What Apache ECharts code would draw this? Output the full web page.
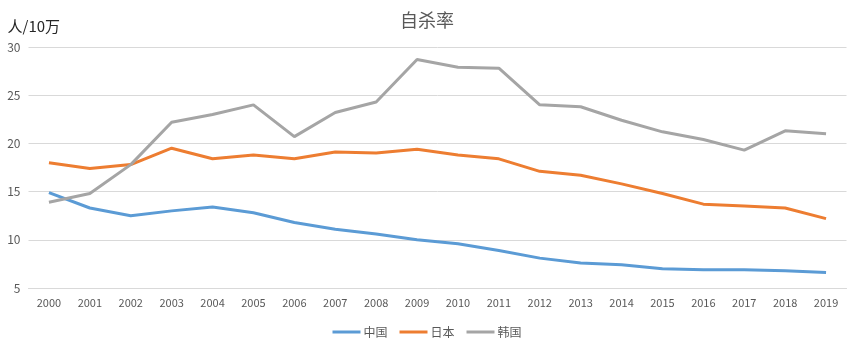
<!DOCTYPE html>
<html>
<head>
<meta charset="utf-8">
<script src="https://cdn.jsdelivr.net/npm/echarts@6/dist/echarts.min.js"></script>
<style>
  html, body { margin: 0; padding: 0; background: #fff; }
  #chart { width: 854px; height: 345px; }
</style>
</head>
<body>
<div id="chart"></div>
<script>
// Suicide rate per 100,000 people, 2000–2019
const years = ['2000','2001','2002','2003','2004','2005','2006','2007','2008','2009',
               '2010','2011','2012','2013','2014','2015','2016','2017','2018','2019'];
const china = [14.9, 13.3, 12.5, 13.0, 13.4, 12.8, 11.8, 11.1, 10.6, 10.0,
               9.6, 8.9, 8.1, 7.6, 7.4, 7.0, 6.9, 6.9, 6.8, 6.6];
const japan = [18.0, 17.4, 17.8, 19.5, 18.4, 18.8, 18.4, 19.1, 19.0, 19.4,
               18.8, 18.4, 17.1, 16.7, 15.8, 14.8, 13.7, 13.5, 13.3, 12.2];
const korea = [13.9, 14.8, 17.8, 22.2, 23.0, 24.0, 20.7, 23.2, 24.3, 28.7,
               27.9, 27.8, 24.0, 23.8, 22.4, 21.2, 20.4, 19.3, 21.3, 21.0];
const yTicks = [5, 10, 15, 20, 25, 30];

const font = '"Microsoft YaHei", "Noto Sans CJK SC", "DejaVu Sans", sans-serif';
const textColor = '#595959';

const chart = echarts.init(document.getElementById('chart'));

function lineSeries(name, data, color) {
  return {
    name: name,
    type: 'line',
    data: data,
    symbol: 'none',
    lineStyle: { width: 3, color: color },
    itemStyle: { color: color }
  };
}

chart.setOption({
  animation: false,
  textStyle: { fontFamily: font },
  title: {
    text: '自杀率',
    left: 'center',
    top: 6,
    textStyle: { fontSize: 18, fontWeight: 'normal', color: textColor, fontFamily: font }
  },
  legend: {
    bottom: 2,
    left: 'center',
    itemWidth: 28,
    itemHeight: 3,
    itemGap: 12,
    icon: 'rect',
    textStyle: { fontSize: 12, color: textColor, fontFamily: font, padding: [0, 0, 0, -2] },
    data: ['中国', '日本', '韩国']
  },
  grid: { left: 28.5, right: 7.5, top: 47, bottom: 57 },
  xAxis: {
    type: 'category',
    data: years,
    boundaryGap: true,
    axisLine: { lineStyle: { color: '#d9d9d9' } },
    axisTick: { show: false },
    axisLabel: { color: textColor, fontSize: 11, margin: 9, interval: 0, fontFamily: font }
  },
  yAxis: {
    type: 'value',
    min: yTicks[0],
    max: yTicks[yTicks.length - 1],
    interval: 5,
    name: '人/10万',
    nameLocation: 'end',
    nameGap: 13,
    nameTextStyle: { color: '#262626', fontSize: 15, align: 'left', padding: [0, 0, 0, -21], fontFamily: font },
    axisLine: { show: false },
    axisTick: { show: false },
    axisLabel: { color: textColor, fontSize: 12, margin: 8, fontFamily: font },
    splitLine: { lineStyle: { color: '#d9d9d9' } }
  },
  series: [
    lineSeries('中国', china, '#5b9bd5'),
    lineSeries('日本', japan, '#ed7d31'),
    lineSeries('韩国', korea, '#a5a5a5')
  ]
});
</script>
</body>
</html>
